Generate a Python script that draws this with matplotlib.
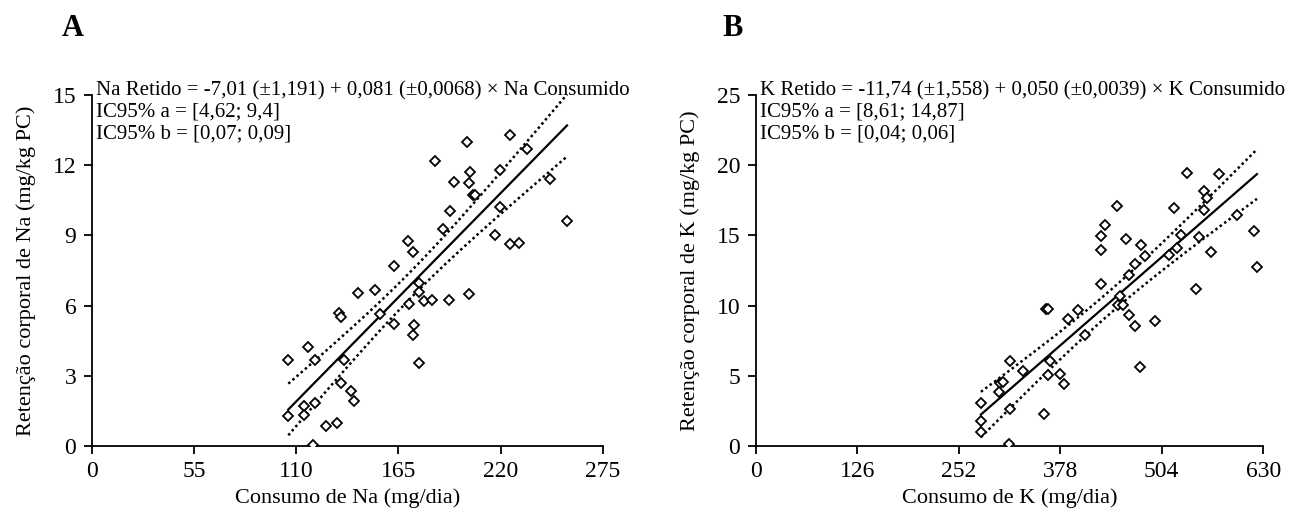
import numpy as np
import matplotlib
matplotlib.use("Agg")
import matplotlib.pyplot as plt

plt.rcParams['font.family'] = ['Liberation Serif', 'DejaVu Serif']

# Panel A: sodium intake vs retained sodium
na_consumo = [202.0, 224.8, 234.4, 184.6, 203.7, 219.4, 194.7, 203.2, 205.2, 206.4,
              246.7, 192.9, 219.6, 189.0, 255.7, 216.7, 225.0, 230.0, 170.2, 172.6,
              162.6, 176.2, 176.2, 143.2, 152.2, 178.9, 183.2, 192.2, 203.2, 170.6,
              154.9, 133.3, 134.3, 162.8, 173.6, 173.1, 176.0, 116.3, 105.8, 119.9,
              135.6, 134.2, 139.4, 141.2, 114.5, 119.9, 114.0, 105.8, 125.9, 132.0,
              119.2]
na_retido = [13.0, 13.3, 12.7, 12.2, 11.7, 11.8, 11.3, 11.25, 10.74, 10.71,
             11.4, 10.06, 10.2, 9.29, 9.6, 9.02, 8.65, 8.67, 8.77, 8.3,
             7.69, 6.95, 6.57, 6.55, 6.65, 6.21, 6.23, 6.23, 6.48, 6.08,
             5.65, 5.67, 5.5, 5.23, 5.17, 4.73, 3.55, 4.24, 3.68, 3.68,
             3.68, 2.69, 2.35, 1.91, 1.71, 1.82, 1.34, 1.27, 0.87, 1.0,
             0.06]
na_coef = (-7.01, 0.081)

# Panel B: potassium intake vs retained potassium
k_consumo = [535.9, 575.6, 556.1, 559.8, 556.1, 519.1, 448.0, 433.5, 428.1, 460.0,
             478.6, 527.4, 550.6, 597.4, 618.9, 622.2, 564.8, 522.6, 513.5, 428.1,
             483.7, 470.9, 463.8, 428.1, 547.1, 452.7, 449.4, 456.0, 463.4, 470.5,
             496.2, 476.6, 360.6, 362.7, 400.0, 387.1, 408.4, 365.6, 315.9, 331.7,
             362.7, 377.6, 382.6, 303.3, 307.5, 301.6, 279.6, 315.9, 357.5, 279.6,
             279.6, 314.3]
k_retido = [19.45, 19.4, 18.19, 17.69, 16.81, 16.95, 17.12, 15.74, 14.95, 14.76,
            14.33, 15.0, 14.88, 16.43, 15.31, 12.76, 13.81, 14.12, 13.64, 13.95,
            13.55, 12.95, 12.17, 11.52, 11.19, 10.69, 10.05, 10.07, 9.36, 8.52,
            8.93, 5.62, 9.79, 9.79, 9.69, 9.05, 7.9, 6.07, 6.05, 5.36,
            5.05, 5.14, 4.4, 4.48, 4.57, 3.86, 3.07, 2.6, 2.29, 1.79,
            1.0, 0.14]
k_coef = (-11.74, 0.050)

panels = [
    dict(letter="A", x=na_consumo, y=na_retido, coef=na_coef,
         xticks=[0, 55, 110, 165, 220, 275], yticks=[0, 3, 6, 9, 12, 15],
         xlabel="Consumo de Na (mg/dia)",
         ylabel="Retenção corporal de Na (mg/kg PC)",
         text="Na Retido = -7,01 (±1,191) + 0,081 (±0,0068) × Na Consumido\n"
              "IC95% a = [4,62; 9,4]\nIC95% b = [0,07; 0,09]"),
    dict(letter="B", x=k_consumo, y=k_retido, coef=k_coef,
         xticks=[0, 126, 252, 378, 504, 630], yticks=[0, 5, 10, 15, 20, 25],
         xlabel="Consumo de K (mg/dia)",
         ylabel="Retenção corporal de K (mg/kg PC)",
         text="K Retido = -11,74 (±1,558) + 0,050 (±0,0039) × K Consumido\n"
              "IC95% a = [8,61; 14,87]\nIC95% b = [0,04; 0,06]"),
]

fig = plt.figure(figsize=(13.05, 5.16), dpi=100)
rects = [[0.0702, 0.1357, 0.3918, 0.680], [0.579, 0.1357, 0.389, 0.680]]
letter_pos = [(62 / 1305, 1 - 28 / 516), (722 / 1305, 1 - 28 / 516)]

for rect, lpos, p in zip(rects, letter_pos, panels):
    ax = fig.add_axes(rect)
    x = np.asarray(p["x"], float)
    y = np.asarray(p["y"], float)
    a, b = p["coef"]

    # fitted line and 95% confidence band of the mean response
    xs = np.linspace(x.min(), x.max(), 200)
    fit = a + b * xs
    n = len(x)
    resid = y - (a + b * x)
    s2 = np.sum(resid ** 2) / (n - 2)
    sxx = np.sum((x - x.mean()) ** 2)
    half = 2.01 * np.sqrt(s2 * (1.0 / n + (xs - x.mean()) ** 2 / sxx))

    ax.plot(x, y, linestyle="none", marker="D", markersize=5,
            markerfacecolor="white", markeredgecolor="black", markeredgewidth=1.3,
            zorder=3)
    ax.plot(xs, fit, color="black", lw=1.6, zorder=2)
    ax.plot(xs, fit + half, color="black", lw=1.8, linestyle=(0, (1, 1.2)), zorder=2)
    ax.plot(xs, fit - half, color="black", lw=1.8, linestyle=(0, (1, 1.2)), zorder=2)

    ax.set_xlim(p["xticks"][0], p["xticks"][-1])
    ax.set_ylim(p["yticks"][0], p["yticks"][-1])
    ax.set_xticks(p["xticks"])
    ax.set_yticks(p["yticks"])
    ax.spines["top"].set_visible(False)
    ax.spines["right"].set_visible(False)
    for sp in ("left", "bottom"):
        ax.spines[sp].set_linewidth(1.3)
        ax.spines[sp].set_clip_on(False)
    ax.tick_params(axis="both", direction="out", length=6, width=1.3,
                   labelsize=17, pad=5)
    ax.set_xlabel(p["xlabel"], fontsize=16, labelpad=4)
    ax.set_ylabel(p["ylabel"], fontsize=16, labelpad=12)

    ax.text(0.008, 1.04, p["text"], transform=ax.transAxes, ha="left", va="top",
            fontsize=15, linespacing=1.16)
    fig.text(lpos[0], lpos[1], p["letter"], ha="left", va="center",
             fontsize=22, fontweight="bold")

fig.savefig("out.png", dpi=100)
